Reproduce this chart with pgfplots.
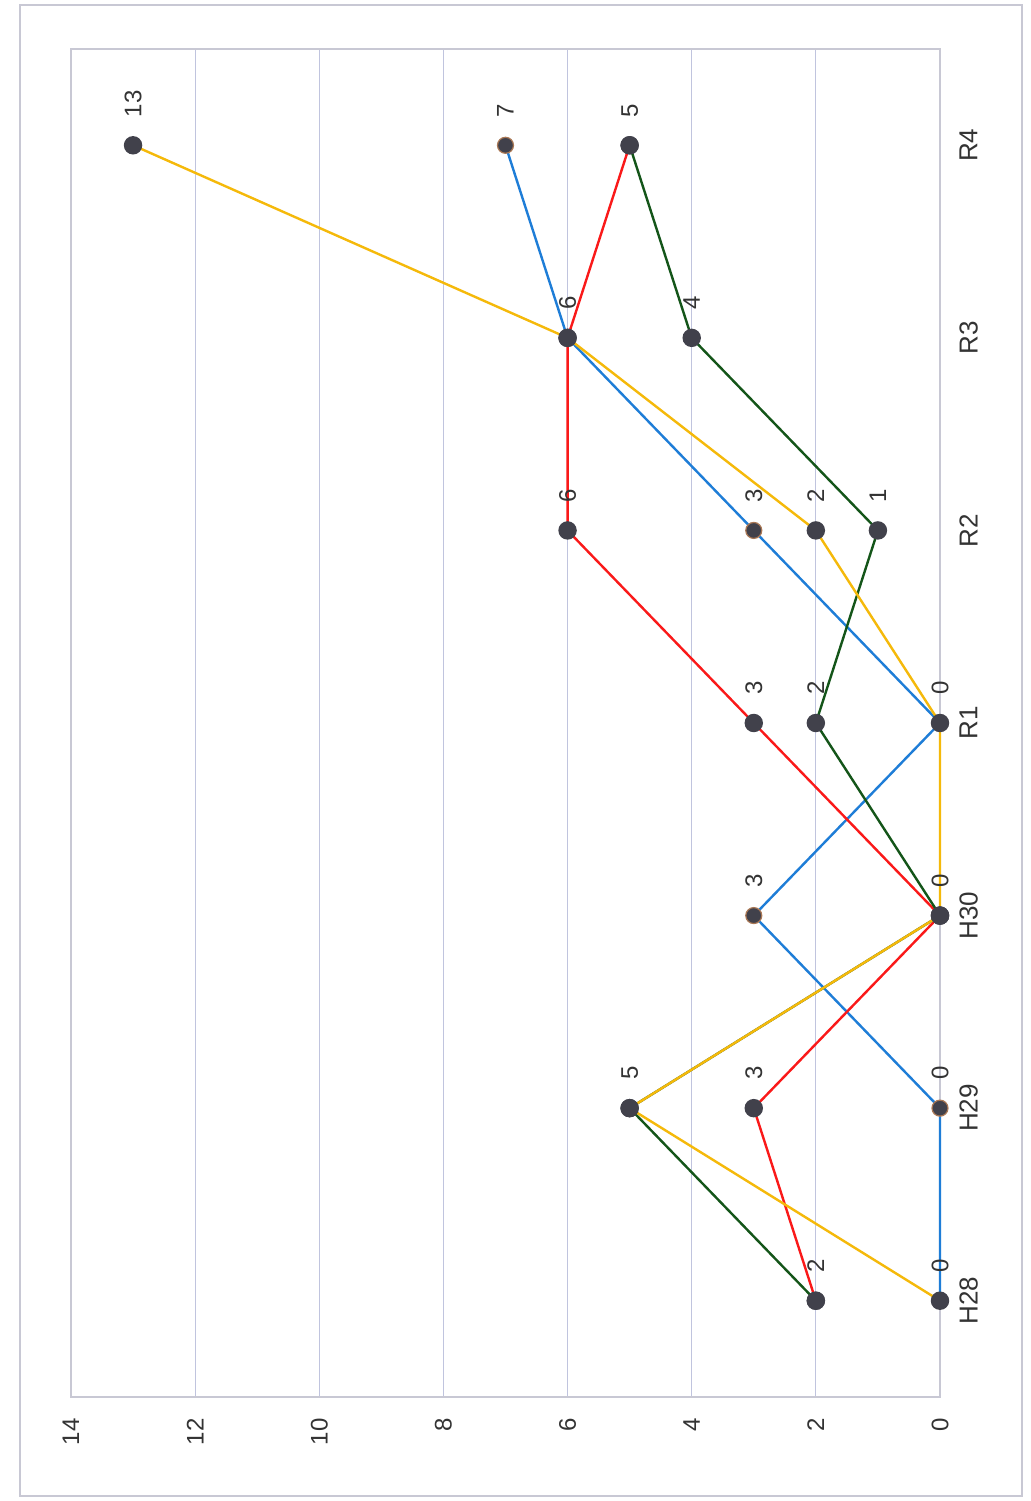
\documentclass[border=0pt]{standalone}
\usepackage{pgfplots}
\pgfplotsset{compat=1.18}
\usepackage{fontspec}
\setmainfont{Liberation Sans}
\definecolor{cblue}{RGB}{30,125,215}
\definecolor{cred}{RGB}{250,25,25}
\definecolor{cgreen}{RGB}{20,85,25}
\definecolor{cyellow}{RGB}{245,185,10}
\definecolor{mgray}{RGB}{65,65,75}
\definecolor{mbrown}{RGB}{170,120,85}
\definecolor{gridc}{RGB}{192,196,222}
\definecolor{framec}{RGB}{200,200,212}
\begin{document}
\begin{tikzpicture}
\useasboundingbox (0,0) rectangle (515.5pt,750.5pt);
\fill[white] (0,0) rectangle (515.5pt,750.5pt);
\draw[framec, line width=0.8pt] (10pt,2.5pt) rectangle (511pt,748pt);
\begin{axis}[
  at={(35.5pt,52pt)}, anchor=south west,
  scale only axis, width=434.5pt, height=674pt,
  x dir=reverse,
  xmin=0, xmax=14, ymin=-0.5, ymax=6.5,
  xtick={0,2,...,14},
  ytick={0,...,6},
  yticklabels={H28,H29,H30,R1,R2,R3,R4},
  yticklabel pos=right,
  major tick length=0pt,
  xmajorgrids,
  grid style={gridc, line width=0.6pt},
  axis line style={framec, line width=0.6pt},
  /pgf/number format/assume math mode=true,
  xticklabel style={rotate=90, anchor=east, inner sep=0pt, font=\fontsize{12pt}{14pt}\selectfont, text=black!80},
  xticklabel shift=10.5pt,
  yticklabel style={rotate=90, anchor=north, inner sep=0pt, font=\fontsize{13pt}{15pt}\selectfont, text=black!80},
  yticklabel shift=9.5pt,
  clip=false,
  every axis plot/.append style={line width=1.2pt, mark=*, mark size=4pt},
]
\addplot[cblue, mark options={fill=mgray, draw=mbrown, line width=0.6pt}] coordinates {(0,0) (0,1) (3,2) (0,3) (3,4) (6,5) (7,6)};
\addplot[cred, mark options={fill=mgray, draw=mgray}] coordinates {(2,0) (3,1) (0,2) (3,3) (6,4) (6,5) (5,6)};
\addplot[cgreen, mark options={fill=mgray, draw=mgray}] coordinates {(2,0) (5,1) (0,2) (2,3) (1,4) (4,5) (5,6)};
\addplot[cyellow, mark options={fill=mgray, draw=mgray}] coordinates {(0,0) (5,1) (0,2) (0,3) (2,4) (6,5) (13,6)};
% data labels (one per distinct point)
\addplot[only marks, mark=none, draw=none, point meta=x,
  nodes near coords,
  every node near coord/.style={yshift=13.5pt, rotate=90, anchor=west, inner sep=0pt, font=\fontsize{12pt}{14pt}\selectfont, text=black!80}]
  coordinates {(2,0) (0,0) (5,1) (3,1) (0,1) (3,2) (0,2) (3,3) (2,3) (0,3)
               (6,4) (3,4) (2,4) (1,4) (6,5) (4,5) (13,6) (7,6) (5,6)};
\end{axis}
\end{tikzpicture}
\end{document}
